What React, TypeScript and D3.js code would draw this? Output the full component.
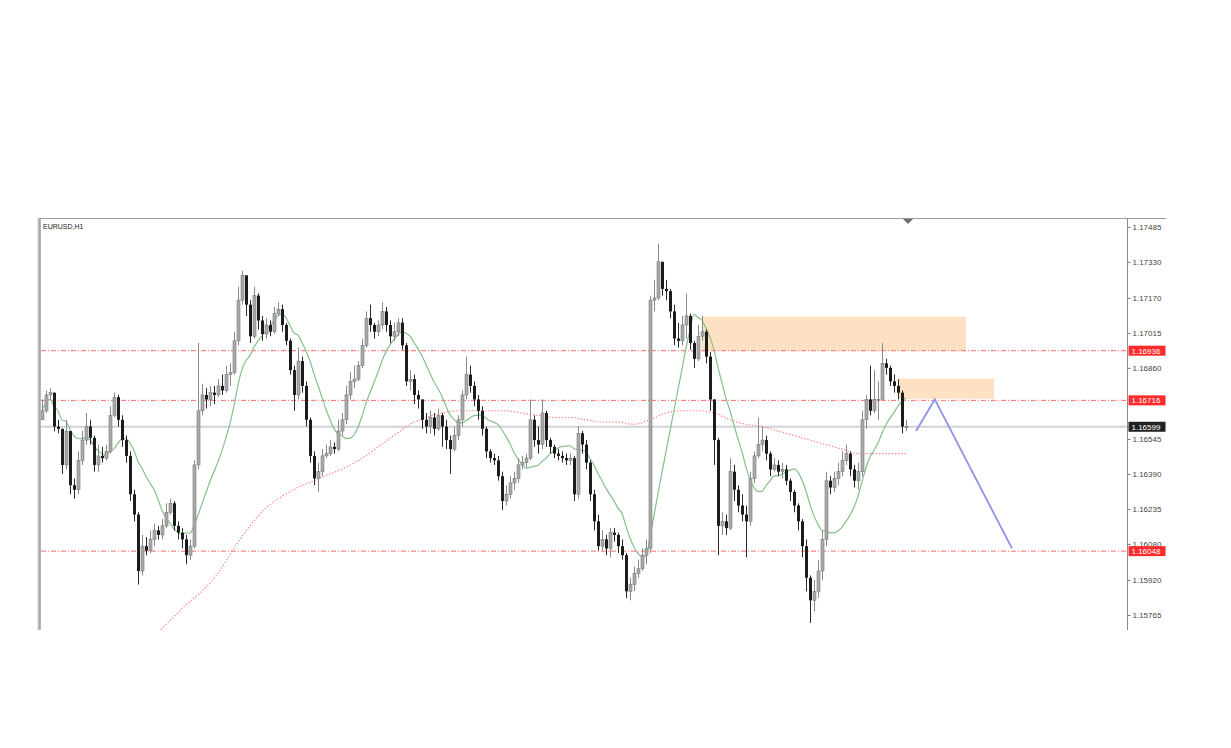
import { axisRight, line, scaleLinear, select, curveMonotoneX } from "d3";
import { useEffect, useRef } from "react";

const symbol = "EURUSD,H1";

// hourly candles (open = previous close)
const firstOpen = 1.1663;
const closes = [
  1.1667, 1.1674, 1.1675, 1.166, 1.1659, 1.1643, 1.1658, 1.1634, 1.1632, 1.1645,
  1.1654, 1.166, 1.1655, 1.1643, 1.1647, 1.1646, 1.1649, 1.1665, 1.1673, 1.1663,
  1.1654, 1.1647, 1.163, 1.1621, 1.1596, 1.1607, 1.1605, 1.161, 1.1614, 1.1612,
  1.1616, 1.1622, 1.1626, 1.1616, 1.1613, 1.161, 1.1603, 1.1607, 1.1643, 1.1667,
  1.1674, 1.1672, 1.1675, 1.1674, 1.1678, 1.1676, 1.1683, 1.1684, 1.1698, 1.1716,
  1.1727, 1.1714, 1.17, 1.1718, 1.1707, 1.1701, 1.1705, 1.1702, 1.171, 1.1712,
  1.1705, 1.1698, 1.1685, 1.1674, 1.1689, 1.1678, 1.1663, 1.1647, 1.1637, 1.164,
  1.1647, 1.1648, 1.1651, 1.165, 1.1658, 1.1663, 1.1674, 1.168, 1.1681, 1.1687,
  1.1696, 1.1708, 1.1705, 1.1702, 1.1705, 1.1711, 1.1705, 1.17, 1.1702, 1.1706,
  1.1696, 1.168, 1.1681, 1.1674, 1.1672, 1.1663, 1.166, 1.1664, 1.1659, 1.1665,
  1.166, 1.1654, 1.165, 1.1656, 1.1663, 1.1674, 1.1683, 1.1678, 1.1672, 1.1667,
  1.1659, 1.1649, 1.1646, 1.1645, 1.1638, 1.1627, 1.163, 1.1635, 1.1637, 1.1643,
  1.1644, 1.1646, 1.1663, 1.1654, 1.1652, 1.1666, 1.1654, 1.1651, 1.1648, 1.1647,
  1.1646, 1.1645, 1.1646, 1.163, 1.1657, 1.1652, 1.1644, 1.163, 1.1618, 1.1607,
  1.161, 1.1606, 1.1613, 1.1612, 1.1607, 1.1603, 1.1587, 1.159, 1.1595, 1.1597,
  1.1603, 1.1606, 1.1716, 1.1717, 1.1733, 1.1721, 1.172, 1.1711, 1.1699, 1.1698,
  1.1705, 1.1709, 1.1697, 1.169, 1.17, 1.1702, 1.1691, 1.1672, 1.1654, 1.1616,
  1.1618, 1.1615, 1.164, 1.1632, 1.1625, 1.1621, 1.1618, 1.1637, 1.1647, 1.1652,
  1.1654, 1.1648, 1.1641, 1.1643, 1.164, 1.1641, 1.1636, 1.1631, 1.1625, 1.1618,
  1.1607, 1.1593, 1.1583, 1.1587, 1.1596, 1.161, 1.1636, 1.1633, 1.1637, 1.164,
  1.1645, 1.1648, 1.1641, 1.1636, 1.164, 1.1663, 1.1672, 1.1667, 1.1672, 1.1672,
  1.1688, 1.1686, 1.168, 1.1678, 1.1675, 1.166, 1.166,
];
const highs = [
  1.1672, 1.1676, 1.1677, 1.1675, 1.1663, 1.1659, 1.1663, 1.1658, 1.1637, 1.1649,
  1.1658, 1.1666, 1.1663, 1.1656, 1.1652, 1.1651, 1.1652, 1.1669, 1.1675, 1.1674,
  1.1665, 1.1656, 1.1649, 1.1632, 1.1622, 1.1612, 1.1611, 1.1614, 1.1617, 1.1616,
  1.1619, 1.1626, 1.1628, 1.1627, 1.1618, 1.1615, 1.1612, 1.161, 1.1645, 1.1697,
  1.1679, 1.1677, 1.1678, 1.1678, 1.1681, 1.1683, 1.1687, 1.1688, 1.1702, 1.1722,
  1.1729, 1.1725, 1.1716, 1.1722, 1.1719, 1.1709, 1.1708, 1.1707, 1.1713, 1.1715,
  1.1714, 1.1706, 1.1699, 1.1687, 1.1695, 1.1691, 1.168, 1.1664, 1.1649, 1.1644,
  1.165, 1.1652, 1.1654, 1.1653, 1.1663, 1.1666, 1.1678, 1.1684, 1.1687, 1.1689,
  1.1699, 1.1711, 1.1714, 1.1706, 1.1707, 1.1715, 1.1713, 1.1707, 1.1706, 1.1708,
  1.1708, 1.1697, 1.1685, 1.1683, 1.1676, 1.1672, 1.1666, 1.1667, 1.1666, 1.1668,
  1.1666, 1.1663, 1.1656, 1.166, 1.1665, 1.1676, 1.1691, 1.1687, 1.168, 1.1674,
  1.1669, 1.166, 1.165, 1.1648, 1.1647, 1.164, 1.1634, 1.1638, 1.164, 1.1646,
  1.1647, 1.1648, 1.1672, 1.1665, 1.166, 1.1672, 1.1667, 1.1655, 1.1652, 1.165,
  1.1649, 1.1648, 1.1648, 1.1647, 1.166, 1.1658, 1.1654, 1.1645, 1.1632, 1.1621,
  1.1614, 1.1612, 1.1615, 1.1615, 1.1613, 1.161, 1.1604, 1.1593, 1.1598, 1.1601,
  1.1606, 1.161, 1.1718, 1.1725, 1.1741, 1.1733, 1.1725, 1.1721, 1.1714, 1.1706,
  1.1709, 1.1719, 1.171, 1.1698, 1.1705, 1.1709, 1.1703, 1.1693, 1.1672, 1.1655,
  1.1622, 1.1621, 1.1646, 1.1643, 1.1634, 1.163, 1.1625, 1.164, 1.1649, 1.1664,
  1.166, 1.1656, 1.1649, 1.1646, 1.1645, 1.1644, 1.1643, 1.1637, 1.1632, 1.1626,
  1.1619, 1.161, 1.1594, 1.1592, 1.1601, 1.1614, 1.164, 1.1638, 1.164, 1.1644,
  1.1649, 1.1652, 1.1649, 1.1643, 1.1644, 1.1667, 1.1674, 1.1687, 1.1685, 1.168,
  1.1697, 1.169, 1.1687, 1.1683, 1.1681, 1.1676, 1.1663,
];
const lows = [
  1.1663, 1.1666, 1.1672, 1.1658, 1.1657, 1.1639, 1.1641, 1.163, 1.1628, 1.163,
  1.1643, 1.1652, 1.1652, 1.164, 1.164, 1.1644, 1.1645, 1.1648, 1.1664, 1.166,
  1.1651, 1.1644, 1.1627, 1.1618, 1.159, 1.1594, 1.1603, 1.1604, 1.1607, 1.161,
  1.161, 1.1615, 1.1621, 1.1614, 1.161, 1.1606, 1.1599, 1.1601, 1.1606, 1.1641,
  1.1665, 1.1668, 1.1669, 1.167, 1.1673, 1.1674, 1.1675, 1.1678, 1.1683, 1.1696,
  1.1714, 1.1709, 1.1697, 1.1699, 1.1703, 1.1698, 1.1699, 1.17, 1.1701, 1.1709,
  1.1702, 1.1696, 1.1683, 1.1667, 1.1672, 1.1675, 1.166, 1.1644, 1.1634, 1.1631,
  1.1638, 1.1646, 1.1647, 1.1648, 1.1649, 1.1656, 1.1661, 1.1672, 1.1677, 1.168,
  1.1686, 1.1695, 1.1702, 1.1699, 1.17, 1.1703, 1.1702, 1.1697, 1.1698, 1.17,
  1.1694, 1.1678, 1.1676, 1.167, 1.1668, 1.1659, 1.1657, 1.1657, 1.1656, 1.1658,
  1.1651, 1.165, 1.1639, 1.1649, 1.1654, 1.166, 1.1672, 1.1675, 1.1669, 1.1663,
  1.1656, 1.1646, 1.1644, 1.1643, 1.1636, 1.1623, 1.1625, 1.1628, 1.1632, 1.1635,
  1.1641, 1.1642, 1.1645, 1.1651, 1.1648, 1.165, 1.1651, 1.1648, 1.1646, 1.1645,
  1.1644, 1.1643, 1.1643, 1.1627, 1.1628, 1.1648, 1.1641, 1.1627, 1.1614, 1.1605,
  1.1605, 1.1603, 1.1602, 1.1609, 1.1604, 1.1601, 1.1584, 1.1583, 1.1587, 1.1593,
  1.1596, 1.1599, 1.1604, 1.1711, 1.1716, 1.1718, 1.1716, 1.1708, 1.1696, 1.1695,
  1.1696, 1.1699, 1.1694, 1.1686, 1.1689, 1.1698, 1.1688, 1.1667, 1.1643, 1.1603,
  1.1612, 1.1612, 1.1614, 1.1627, 1.1622, 1.1618, 1.1602, 1.1616, 1.1635, 1.1646,
  1.1649, 1.1645, 1.1638, 1.164, 1.1638, 1.1637, 1.1634, 1.1627, 1.1622, 1.1614,
  1.1602, 1.1587, 1.1573, 1.1578, 1.1584, 1.1592, 1.1607, 1.163, 1.1631, 1.1634,
  1.1638, 1.1643, 1.1638, 1.1633, 1.1632, 1.1638, 1.1659, 1.1665, 1.1666, 1.1663,
  1.1672, 1.1683, 1.1678, 1.1675, 1.1672, 1.1657, 1.1658,
];

// slow moving average (red dotted)
const slowMaIndex = [
  28, 32, 36, 40, 44, 48, 52, 56, 60, 64, 68, 72, 76, 80, 84, 88, 92, 96, 100, 104,
  108, 112, 116, 120, 124, 128, 132, 136, 140, 144, 148, 152, 156, 160, 164, 168,
  172, 176, 180, 184, 188, 192, 196, 200, 204, 208, 212, 216,
];
const slowMaValue = [
  1.1567, 1.1574, 1.1581, 1.1587, 1.1595, 1.1606, 1.1616, 1.1624, 1.1629, 1.1633,
  1.1636, 1.1639, 1.1642, 1.1646, 1.1651, 1.1656, 1.1661, 1.1664, 1.1666, 1.1667,
  1.1667, 1.1667, 1.1667, 1.1666, 1.1665, 1.1664, 1.1664, 1.1663, 1.1662, 1.1662,
  1.1661, 1.1663, 1.1666, 1.1667, 1.1667, 1.1666, 1.1663, 1.1661, 1.166, 1.1658,
  1.1656, 1.1654, 1.1652, 1.165, 1.1648, 1.1648, 1.1648, 1.1648,
];
const fastMaPeriod = 12;

const priceTicks = [
  1.17485, 1.1733, 1.1717, 1.17015, 1.1686, 1.16545, 1.1639, 1.16235, 1.1608,
  1.1592, 1.15765,
];
const levelLines = [1.16936, 1.16716, 1.16048];
const lastPrice = 1.16599;

// supply zones: candle index from / to, price top / bottom
const zoneFrom = [165, 214];
const zoneTo = [231, 238];
const zoneTop = [1.17087, 1.16812];
const zoneBottom = [1.16936, 1.16723];

// hand drawn projection
const projIndex = [218.5, 223.2, 242.5];
const projPrice = [1.1658, 1.1672, 1.1606];

const W = 1231;
const H = 748;
const plot = { left: 41, right: 1127.5, top: 218.5, bottom: 630 };

const ChartView = () => {
  const ref = useRef<SVGSVGElement>(null);

  useEffect(() => {
    if (!ref.current) return;
    const svg = select(ref.current).attr("width", W).attr("height", H);
    svg.selectAll("*").remove();

    const x = scaleLinear().domain([0, closes.length - 1]).range([42, 906]);
    const y = scaleLinear().domain([1.15765, 1.17485]).range([615, 226.8]);

    svg
      .append("defs")
      .append("clipPath")
      .attr("id", "plotClip")
      .append("rect")
      .attr("x", plot.left)
      .attr("y", plot.top)
      .attr("width", plot.right - plot.left)
      .attr("height", plot.bottom - plot.top);

    // frame
    svg
      .append("line")
      .attr("x1", 38)
      .attr("x2", 1166)
      .attr("y1", plot.top)
      .attr("y2", plot.top)
      .attr("stroke", "#9a9a9a");
    svg
      .append("rect")
      .attr("x", 37.5)
      .attr("y", plot.top)
      .attr("width", 3)
      .attr("height", plot.bottom - plot.top)
      .attr("fill", "#c4c4c4");
    svg
      .append("line")
      .attr("x1", 40)
      .attr("x2", 40)
      .attr("y1", plot.top)
      .attr("y2", plot.bottom)
      .attr("stroke", "#8a8a8a");

    const g = svg.append("g").attr("clip-path", "url(#plotClip)");

    // zones
    zoneFrom.forEach((f, i) => {
      g.append("rect")
        .attr("x", x(f))
        .attr("y", y(zoneTop[i]))
        .attr("width", x(zoneTo[i]) - x(f))
        .attr("height", y(zoneBottom[i]) - y(zoneTop[i]))
        .attr("fill", "#fde1c2");
    });

    // levels
    levelLines.forEach((v) => {
      g.append("line")
        .attr("x1", plot.left)
        .attr("x2", plot.right)
        .attr("y1", y(v))
        .attr("y2", y(v))
        .attr("stroke", "#ff6a6a")
        .attr("stroke-dasharray", "5,2,1,2");
    });
    g.append("line")
      .attr("x1", plot.left)
      .attr("x2", plot.right)
      .attr("y1", y(lastPrice))
      .attr("y2", y(lastPrice))
      .attr("stroke", "#d2d2d8")
      .attr("stroke-width", 2);

    // slow MA
    const slowLine = line<number>()
      .x((d, i) => x(slowMaIndex[i]))
      .y((d) => y(d))
      .curve(curveMonotoneX);
    g.append("path")
      .attr("d", slowLine(slowMaValue))
      .attr("fill", "none")
      .attr("stroke", "#ff7d7d")
      .attr("stroke-width", 1.1)
      .attr("stroke-dasharray", "1.4,1.8");

    // fast MA from closes
    const fastMa = closes.map((c, i) => {
      const from = Math.max(0, i - fastMaPeriod + 1);
      const win = closes.slice(from, i + 1);
      return win.reduce((a, b) => a + b, 0) / win.length;
    });
    const fastLine = line<number>()
      .x((d, i) => x(i))
      .y((d) => y(d))
      .curve(curveMonotoneX);
    g.append("path")
      .attr("d", fastLine(fastMa))
      .attr("fill", "none")
      .attr("stroke", "#86c08a")
      .attr("stroke-width", 1.2);

    // candles
    const bw = 3;
    closes.forEach((c, i) => {
      const o = i === 0 ? firstOpen : closes[i - 1];
      const hi = Math.max(highs[i], o, c);
      const lo = Math.min(lows[i], o, c);
      const up = c >= o;
      const cx = Math.round(x(i)) + 0.5;
      g.append("line")
        .attr("x1", cx)
        .attr("x2", cx)
        .attr("y1", y(hi))
        .attr("y2", y(lo))
        .attr("stroke", up ? "#8a8a8a" : "#2a2a2a");
      g.append("rect")
        .attr("x", cx - bw / 2)
        .attr("y", y(Math.max(o, c)))
        .attr("width", bw)
        .attr("height", Math.max(1, Math.abs(y(o) - y(c))))
        .attr("fill", up ? "#aaaaaa" : "#1c1c1c")
        .attr("stroke", up ? "#7a7a7a" : "none")
        .attr("stroke-width", 0.6);
    });

    // projection
    const projLine = line<number>()
      .x((d) => x(d))
      .y((d, i) => y(projPrice[i]));
    g.append("path")
      .attr("d", projLine(projIndex))
      .attr("fill", "none")
      .attr("stroke", "#8f93e8")
      .attr("stroke-width", 1.8);

    // shift marker
    svg
      .append("path")
      .attr("d", "M903,219 L913,219 L908,224 Z")
      .attr("fill", "#6e6e6e");

    // price axis
    const axis = axisRight(y)
      .tickValues(priceTicks)
      .tickSize(3)
      .tickPadding(2)
      .tickFormat((d) => (d as number).toFixed(5));
    const ag = svg
      .append("g")
      .attr("transform", `translate(${plot.right},0)`)
      .call(axis);
    ag.select(".domain").remove();
    ag.selectAll("line").attr("stroke", "#777");
    ag.selectAll("text")
      .attr("fill", "#444")
      .attr("font-size", 8)
      .attr("font-family", "Liberation Sans, Arial, sans-serif");
    svg
      .append("line")
      .attr("x1", plot.right)
      .attr("x2", plot.right)
      .attr("y1", plot.top)
      .attr("y2", plot.bottom)
      .attr("stroke", "#8a8a8a");

    // level labels
    const tags = [
      ...levelLines.map((v) => ({ v, bg: "#ff2a2a" })),
      { v: lastPrice, bg: "#222" },
    ];
    tags.forEach(({ v, bg }) => {
      svg
        .append("rect")
        .attr("x", plot.right + 1)
        .attr("y", y(v) - 5)
        .attr("width", 37)
        .attr("height", 10)
        .attr("fill", bg);
      svg
        .append("text")
        .attr("x", plot.right + 4)
        .attr("y", y(v) + 3)
        .attr("fill", "#fff")
        .attr("font-size", 8)
        .attr("font-family", "Liberation Sans, Arial, sans-serif")
        .text(v.toFixed(5));
    });

    svg
      .append("text")
      .attr("x", 43)
      .attr("y", 229)
      .attr("fill", "#222")
      .attr("font-size", 7)
      .attr("font-family", "Liberation Sans, Arial, sans-serif")
      .text(symbol);
  }, []);

  return (
    <svg
      ref={ref}
      style={{ position: "absolute", left: 0, top: 0, background: "#fff" }}
    />
  );
};

export default function App() {
  return <ChartView />;
}
